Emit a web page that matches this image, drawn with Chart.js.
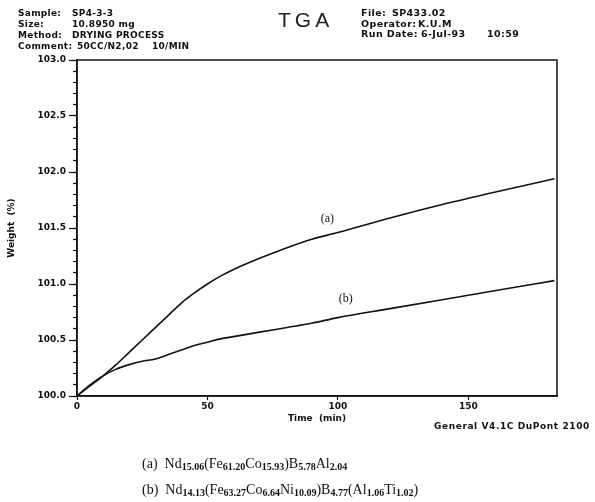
<!DOCTYPE html>
<html>
<head>
<meta charset="utf-8">
<script src="https://cdn.jsdelivr.net/npm/chart.js@4/dist/chart.umd.min.js"></script>
<style>
  body { margin: 0; background: #fff; }
  #wrap { position: relative; width: 595px; height: 502px; overflow: hidden; }
  #tga { position: absolute; left: 0; top: 0; }
  .hd { position: absolute; font: bold 9px "DejaVu Sans", sans-serif; letter-spacing: 0.3px; color: #111; white-space: pre; line-height: 11px; }
  .hr { font-size: 9.5px; letter-spacing: 0.4px; }
  .ttl { position: absolute; font: 21px "Liberation Sans", sans-serif; letter-spacing: 4px; color: #222; }
  .cap { position: absolute; font: 14px "Liberation Serif", serif; color: #111; white-space: nowrap; }
  .cap sub { font-size: 10px; font-weight: bold; vertical-align: -2px; }
</style>
</head>
<body>
<div id="wrap">
  <canvas id="tga" width="595" height="502"></canvas>

  <!-- ヘッダー -->
  <div class="hd" style="left:18px;top:8px">Sample:</div><div class="hd" style="left:72px;top:8px">SP4-3-3</div>
  <div class="hd" style="left:18px;top:19px">Size:</div><div class="hd" style="left:72px;top:19px">10.8950 mg</div>
  <div class="hd" style="left:18px;top:30px">Method:</div><div class="hd" style="left:72px;top:30px">DRYING PROCESS</div>
  <div class="hd" style="left:18px;top:41px">Comment:</div><div class="hd" style="left:77px;top:41px">50CC/N2,02</div><div class="hd" style="left:152px;top:41px">10/MIN</div>

  <div class="ttl" style="left:278px;top:8px">TGA</div>

  <div class="hd hr" style="left:361px;top:7px">File:</div><div class="hd hr" style="left:392px;top:7px">SP433.02</div>
  <div class="hd hr" style="left:361px;top:18px">Operator:</div><div class="hd hr" style="left:418px;top:18px">K.U.M</div>
  <div class="hd hr" style="left:361px;top:28px">Run Date:</div><div class="hd hr" style="left:421px;top:28px">6-Jul-93</div><div class="hd hr" style="left:487px;top:28px">10:59</div>

  <div class="hd" style="left:434px;top:421px;letter-spacing:0.6px">General V4.1C DuPont 2100</div>

  <!-- 組成 -->
  <div class="cap" style="left:142px;top:456px">(a)&nbsp; Nd<sub>15.06</sub>(Fe<sub>61.20</sub>Co<sub>15.93</sub>)B<sub>5.78</sub>Al<sub>2.04</sub></div>
  <div class="cap" style="left:142px;top:482px">(b)&nbsp; Nd<sub>14.13</sub>(Fe<sub>63.27</sub>Co<sub>6.64</sub>Ni<sub>10.09</sub>)B<sub>4.77</sub>(Al<sub>1.06</sub>Ti<sub>1.02</sub>)</div>
</div>

<script>
// 時間 [min]
const timeMin = [0, 5, 10, 15, 20, 25, 30, 35, 40, 45, 50, 55, 60, 70, 80, 90, 100, 120, 140, 160, 183];
// 重量 [%]
const weightA = [100.00, 100.09, 100.18, 100.28, 100.39, 100.50, 100.61, 100.72, 100.83, 100.92, 101.00, 101.07, 101.13, 101.23, 101.32, 101.40, 101.46, 101.59, 101.71, 101.82, 101.94];
const weightB = [100.00, 100.10, 100.18, 100.24, 100.28, 100.31, 100.33, 100.37, 100.41, 100.45, 100.48, 100.51, 100.53, 100.57, 100.61, 100.65, 100.70, 100.78, 100.86, 100.94, 101.03];
const seriesNames = ['(a)', '(b)'];
// ラベル位置 [時間, 重量]
const labelAt = [[96, 101.58], [103, 100.87]];
const xTicks = [0, 50, 100, 150];

const ink = '#111';
const tickFont = { family: 'DejaVu Sans', size: 9, weight: 'bold' };

function pts(ys) {
  return timeMin.map((t, i) => ({ x: t, y: ys[i] }));
}

// 枠線とカーブ名
const boxPlugin = {
  id: 'box',
  afterDraw(chart) {
    const { ctx, chartArea: a, scales } = chart;
    ctx.save();
    ctx.strokeStyle = ink;
    ctx.lineWidth = 1.5;
    ctx.strokeRect(a.left, a.top, a.right - a.left, a.bottom - a.top);
    ctx.fillStyle = ink;
    ctx.font = '12px "Liberation Serif", serif';
    ctx.textAlign = 'center';
    ctx.textBaseline = 'middle';
    seriesNames.forEach((n, i) => {
      ctx.fillText(n, scales.x.getPixelForValue(labelAt[i][0]), scales.y.getPixelForValue(labelAt[i][1]));
    });
    ctx.restore();
  }
};

let ctx = document.getElementById('tga').getContext('2d');
new Chart(ctx, {
  type: 'line',
  data: {
    datasets: [
      { label: seriesNames[0], data: pts(weightA), borderColor: ink, backgroundColor: ink },
      { label: seriesNames[1], data: pts(weightB), borderColor: ink, backgroundColor: ink }
    ]
  },
  options: {
    responsive: false,
    animation: false,
    events: [],
    datasets: {
      line: {
        borderWidth: 1.6,
        pointRadius: 0,
        tension: 0.4,
        cubicInterpolationMode: 'monotone'
      }
    },
    layout: { padding: { top: 60, right: 38, left: 0, bottom: 78 } },
    plugins: {
      legend: { display: false },
      tooltip: { enabled: false }
    },
    scales: {
      x: {
        type: 'linear',
        min: 0,
        max: 184,
        afterFit: s => { s.height = 28; },
        afterBuildTicks: s => { s.ticks = xTicks.map(v => ({ value: v })); },
        ticks: { color: ink, font: tickFont, padding: 1, maxRotation: 0, includeBounds: false },
        grid: { drawOnChartArea: false, tickLength: 4, color: ink, tickWidth: 1.2 },
        border: { color: ink, width: 1.5 },
        title: { display: true, text: 'Time  (min)', color: ink, font: tickFont, padding: 0 }
      },
      y: {
        min: 100,
        max: 103,
        weight: 1,
        afterFit: s => { s.width = 77; },
        ticks: {
          stepSize: 0.5,
          color: ink,
          font: tickFont,
          padding: 3,
          callback: v => v.toFixed(1)
        },
        grid: { drawOnChartArea: false, tickLength: 8, color: ink, tickWidth: 1.2 },
        border: { color: ink, width: 1.5 },
        title: { display: true, text: 'Weight  (%)', color: ink, font: tickFont, padding: 6 }
      },
      // 補助目盛り
      yMinor: {
        position: 'left',
        min: 100,
        max: 103,
        weight: 0,
        afterFit: s => { s.width = 0; },
        ticks: { stepSize: 0.1, display: false },
        grid: { drawOnChartArea: false, tickLength: 4, color: ink, tickWidth: 1.2 },
        border: { display: false }
      }
    }
  },
  plugins: [boxPlugin]
});
</script>
</body>
</html>
